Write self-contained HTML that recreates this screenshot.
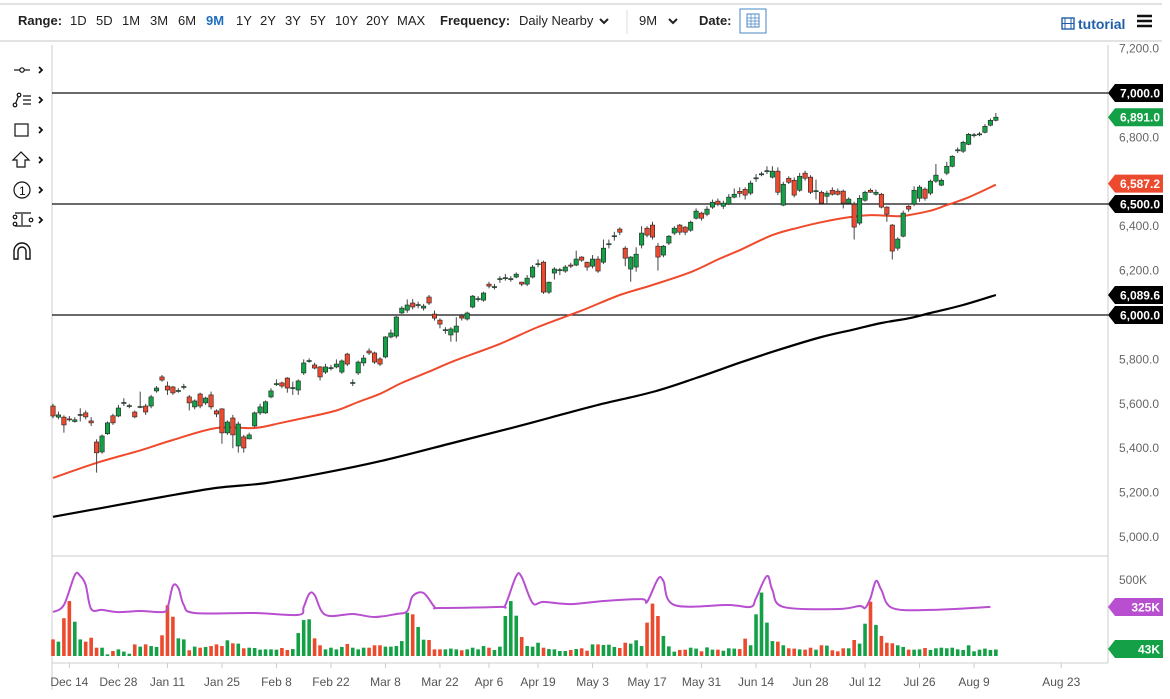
<!DOCTYPE html>
<html><head><meta charset="utf-8">
<style>
html,body{margin:0;padding:0;background:#fff;}
body{width:1170px;height:699px;overflow:hidden;position:relative;font-family:"Liberation Sans",sans-serif;}
svg{position:absolute;left:0;top:0;}
</style></head>
<body>
<svg id="chart" width="1170" height="699" viewBox="0 0 1170 699" xmlns="http://www.w3.org/2000/svg">
  <g font-size="13" fill="#222">
    <line x1="0" y1="4" x2="1162" y2="4" stroke="#d8d8d8" stroke-width="1.5"/>
    <line x1="0" y1="41" x2="1162" y2="41" stroke="#d8d8d8" stroke-width="1.5"/>
    <text x="18" y="25" font-weight="bold">Range:</text>
    <text x="70" y="25">1D</text>
    <text x="96" y="25">5D</text>
    <text x="122" y="25">1M</text>
    <text x="150" y="25">3M</text>
    <text x="178" y="25">6M</text>
    <text x="206" y="25" fill="#1f6fbf" font-weight="bold">9M</text>
    <text x="236" y="25">1Y</text>
    <text x="260" y="25">2Y</text>
    <text x="285" y="25">3Y</text>
    <text x="310" y="25">5Y</text>
    <text x="335" y="25">10Y</text>
    <text x="366" y="25">20Y</text>
    <text x="397" y="25">MAX</text>
    <text x="440" y="25" font-weight="bold">Frequency:</text>
    <text x="519" y="25">Daily Nearby</text>
    <path d="M600 19 l4 4 l4 -4" fill="none" stroke="#222" stroke-width="2"/>
    <line x1="627" y1="10" x2="627" y2="34" stroke="#ddd"/>
    <text x="639" y="25">9M</text>
    <path d="M669 19 l4 4 l4 -4" fill="none" stroke="#222" stroke-width="2"/>
    <text x="699" y="25" font-weight="bold">Date:</text>
    <g>
      <rect x="740" y="9" width="26" height="24" fill="#fff" stroke="#4a86c5"/>
      <rect x="747" y="14" width="12" height="13" fill="none" stroke="#4a86c5"/>
      <path d="M747 18 h12 M747 21 h12 M747 24 h12 M751 14 v13 M755 14 v13" stroke="#4a86c5" stroke-width="0.7"/>
    </g>
    <g>
      <rect x="1062" y="18" width="12" height="11" fill="none" stroke="#1f5fa8" stroke-width="1.4"/>
      <path d="M1065 18 v11 M1071 18 v11 M1062 23.5 h12" stroke="#1f5fa8" stroke-width="1"/>
      <text x="1078" y="29" fill="#1f5fa8" font-weight="bold" font-size="14">tutorial</text>
    </g>
    <path d="M1137 16 h15 M1137 21 h15 M1137 26 h15" stroke="#111" stroke-width="2.5"/>
  </g>
  <g stroke="#111" fill="none" stroke-width="1.2">
    <g><path d="M14 70 h16"/><circle cx="22" cy="70" r="2.2" fill="#fff"/><path d="M39 67 l3 3 l-3 3" stroke-width="1.8"/></g>
    <g><path d="M15 105 l4 -10 M23 96 h8 M23 100 h8 M23 104 h8"/><circle cx="15" cy="105" r="1.8" fill="#fff"/><circle cx="19" cy="95" r="1.8" fill="#fff"/><path d="M39 97 l3 3 l-3 3" stroke-width="1.8"/></g>
    <g><rect x="15" y="124" width="13" height="12"/><path d="M39 127 l3 3 l-3 3" stroke-width="1.8"/></g>
    <g><path d="M21 152 l-8 8 h4 v7 h8 v-7 h4 z"/><path d="M39 157 l3 3 l-3 3" stroke-width="1.8"/></g>
    <g><circle cx="22" cy="190" r="8"/><text x="19" y="195" font-size="12" fill="#111" stroke="none">1</text><path d="M39 187 l3 3 l-3 3" stroke-width="1.8"/></g>
    <g><path d="M15 213 h16 M15 226 h16 M22 214 v11"/><circle cx="15" cy="217" r="1.8"/><circle cx="15" cy="224" r="1.8"/><circle cx="31" cy="220" r="1.8"/><path d="M39 217 l3 3 l-3 3" stroke-width="1.8"/></g>
    <g><path d="M14 259 v-8 a8 8 0 0 1 16 0 v8 h-4 v-8 a4 4 0 0 0 -8 0 v8 z" stroke-width="1.4"/></g>
  </g>
  <g stroke="#ccc" fill="none">
    <line x1="52" y1="45" x2="52" y2="690"/>
    <line x1="1108" y1="45" x2="1108" y2="663"/>
    <line x1="52" y1="556" x2="1108" y2="556"/>
    <line x1="52" y1="663" x2="1108" y2="663"/>
  </g>
  <g id="priceAxis"></g>
  <g id="refLines"></g>
  <g id="maLines"></g>
  <g id="candles"></g>
  <g id="volume"></g>
  <g id="xAxis"></g>
  <g id="tags"></g>
</svg>
<script>
const opens=[5590,5540,5540,5532,5520,5548,5559,5523,5428,5383,5465,5546,5545,5602,5588,5563,5584,5590,5590,5658,5721,5680,5676,5656,5674,5631,5586,5644,5604,5640,5568,5577,5469,5536,5410,5451,5442,5500,5559,5559,5631,5687,5694,5716,5669,5662,5739,5791,5775,5766,5743,5759,5766,5743,5824,5692,5739,5784,5838,5829,5802,5811,5901,5905,6009,6022,6054,6043,6031,6081,6004,5977,5930,5910,5923,5995,5982,6036,6070,6067,6139,6124,6160,6164,6160,6171,6148,6139,6171,6227,6238,6103,6189,6200,6198,6225,6225,6261,6238,6220,6252,6238,6317,6353,6387,6301,6207,6216,6315,6391,6405,6310,6270,6324,6369,6405,6396,6382,6436,6459,6454,6486,6513,6490,6500,6531,6557,6566,6549,6614,6632,6646,6621,6648,6495,6616,6607,6562,6639,6621,6556,6553,6535,6562,6558,6558,6504,6499,6414,6517,6562,6544,6544,6486,6405,6301,6355,6490,6500,6526,6567,6549,6603,6585,6639,6670,6740,6738,6769,6808,6812,6823,6855,6877];
const closes=[5545,5550,5505,5528,5528,5552,5541,5514,5379,5455,5514,5514,5581,5606,5592,5541,5588,5563,5631,5671,5707,5662,5649,5660,5678,5604,5613,5590,5626,5586,5554,5469,5518,5460,5509,5401,5460,5559,5586,5609,5658,5691,5680,5671,5673,5703,5784,5795,5761,5721,5766,5763,5779,5793,5779,5696,5788,5806,5829,5788,5779,5901,5919,5991,6031,6045,6036,6047,6040,6054,5986,5959,5934,5937,5950,5986,6009,6085,6074,6099,6130,6128,6164,6168,6164,6184,6139,6166,6216,6231,6103,6148,6207,6204,6216,6220,6252,6247,6216,6252,6198,6301,6321,6357,6373,6256,6261,6274,6369,6360,6351,6261,6310,6355,6391,6373,6373,6418,6468,6436,6477,6508,6500,6504,6531,6544,6548,6540,6594,6618,6636,6650,6648,6553,6589,6598,6540,6625,6616,6553,6560,6504,6549,6544,6544,6504,6522,6396,6526,6553,6553,6553,6486,6454,6288,6342,6459,6477,6562,6576,6526,6603,6630,6607,6670,6715,6744,6778,6814,6812,6816,6850,6877,6891];
const highs=[5600,5565,5548,5545,5540,5580,5570,5540,5440,5462,5520,5555,5595,5625,5600,5570,5655,5600,5640,5680,5730,5700,5680,5670,5690,5640,5620,5650,5632,5655,5575,5580,5525,5550,5520,5460,5470,5565,5600,5615,5670,5710,5700,5720,5700,5710,5800,5805,5785,5770,5780,5775,5800,5800,5830,5710,5795,5820,5850,5835,5810,5905,5935,5995,6040,6070,6072,6060,6050,6090,6020,5985,5945,5945,5990,6005,6015,6090,6085,6105,6150,6140,6175,6185,6175,6192,6150,6180,6225,6250,6245,6150,6215,6212,6225,6235,6290,6265,6240,6270,6265,6340,6340,6375,6395,6310,6265,6305,6400,6400,6420,6325,6315,6360,6400,6410,6400,6425,6480,6465,6490,6520,6525,6515,6545,6570,6575,6575,6605,6635,6645,6670,6670,6665,6600,6625,6620,6640,6650,6630,6610,6560,6560,6575,6570,6565,6530,6510,6540,6560,6570,6565,6550,6490,6410,6350,6470,6495,6580,6585,6575,6610,6680,6615,6690,6720,6755,6785,6820,6820,6825,6860,6885,6910];
const lows=[5535,5530,5470,5520,5515,5520,5530,5500,5290,5375,5460,5505,5540,5590,5580,5535,5580,5550,5580,5650,5700,5640,5640,5650,5665,5570,5575,5580,5595,5575,5540,5420,5460,5400,5380,5380,5440,5495,5550,5555,5625,5680,5670,5650,5640,5640,5730,5785,5755,5705,5735,5750,5760,5735,5770,5680,5730,5770,5820,5780,5770,5805,5895,5895,6005,6010,6025,6030,6020,6045,5975,5940,5915,5880,5880,5975,5975,6030,6060,6060,6120,6115,6145,6155,6150,6165,6130,6130,6165,6215,6095,6095,6160,6180,6190,6212,6220,6240,6200,6210,6190,6230,6300,6335,6360,6220,6150,6195,6300,6350,6340,6200,6260,6315,6360,6360,6360,6375,6430,6425,6445,6478,6490,6478,6495,6525,6530,6520,6540,6600,6625,6635,6615,6540,6490,6590,6530,6555,6605,6545,6520,6500,6500,6538,6538,6480,6500,6340,6405,6510,6550,6538,6480,6420,6250,6290,6350,6465,6490,6510,6515,6540,6595,6580,6630,6665,6730,6730,6765,6800,6805,6818,6850,6872];
const volumes=[110,95,250,364,227,110,95,121,55,55,11,33,44,29,15,77,62,77,66,60,137,336,260,117,110,38,62,55,60,66,77,66,104,84,82,51,55,53,42,44,44,42,53,40,46,152,238,243,117,71,44,55,44,60,80,55,44,55,55,71,71,62,62,66,99,287,276,192,108,106,44,44,44,49,44,38,44,55,44,66,55,40,62,265,364,267,126,66,62,88,55,46,44,33,33,40,46,51,35,77,77,73,75,60,53,88,82,104,66,221,347,265,133,64,29,40,42,55,49,31,57,42,42,35,51,49,46,115,71,276,420,221,99,95,71,51,49,44,42,55,42,71,69,38,31,51,51,106,82,214,360,206,133,88,84,71,60,42,42,44,53,40,51,55,51,55,44,40,71,31,42,49,40,43];
const ma50Idx=[0,8,16,22,30,37,42,47,52,56,60,64,69,74,82,89,97,104,110,117,122,126,132,137,141,146,150,155,157,161,164,168,173];
const ma50Val=[5266,5334,5390,5437,5491,5491,5515,5541,5570,5608,5645,5694,5745,5797,5870,5946,6020,6090,6135,6193,6250,6292,6360,6395,6418,6440,6450,6445,6450,6470,6495,6530,6587];
const ma200Idx=[0,9,20,30,39,50,61,74,84,91,100,110,118,126,133,141,147,152,157,161,167,173];
const ma200Val=[5091,5131,5180,5221,5243,5290,5347,5428,5490,5536,5595,5653,5716,5785,5842,5901,5935,5964,5985,6009,6045,6090];
const volAvgIdx=[0,2,4,5,6,7,9,12,16,20,21,22,23,24,26,37,45,46,47,48,50,55,59,63,65,66,68,70,71,82,83,85,86,88,90,95,101,108,109,111,112,114,124,128,129,131,132,134,144,148,149,150,151,152,154,161,172];
const volAvgVal=[291,338,536,530,470,311,305,291,298,291,318,464,450,338,285,285,272,325,411,404,272,278,258,278,298,397,417,325,318,325,338,530,523,351,358,344,364,377,358,510,497,338,338,325,384,530,437,325,311,331,318,384,497,437,318,305,325];
const priceTicks=[5000,5200,5400,5600,5800,6000,6200,6400,6600,6800,7000,7200];
const refLevels=[7000,6500,6000];
const dateLabels=["Dec 14","Dec 28","Jan 11","Jan 25","Feb 8","Feb 22","Mar 8","Mar 22","Apr 6","Apr 19","May 3","May 17","May 31","Jun 14","Jun 28","Jul 12","Jul 26","Aug 9","Aug 23"];
const dateIdx=[3,12,21,31,41,51,61,71,80,89,99,109,119,129,139,149,159,169,185];

const NS="http://www.w3.org/2000/svg";
const X=i=>53+i*5.45;
const Y=p=>315-(p-6000)*0.222;
const YV=v=>656-v*0.151;
function mk(tag,attrs,parent){const e=document.createElementNS(NS,tag);for(const k in attrs)e.setAttribute(k,attrs[k]);parent.appendChild(e);return e;}
const G=id=>document.getElementById(id);
const GREEN="#14a046",RED="#ec4a2e";

priceTicks.forEach(p=>{
  if(p===7000||p===6000)return;
  const t=mk('text',{x:1119,y:Y(p)+4,'font-size':12,fill:'#666'},G('priceAxis'));
  
  
  t.textContent=p.toLocaleString('en-US')+'.0';
});
refLevels.forEach(p=>{
  const l=mk('line',{x1:52,x2:1108,y1:Y(p),y2:Y(p),stroke:'#111','stroke-width':1.2},G('refLines'));
  
  
});
function line(idx,vals,yf,color,w,parent,name){
  const P=idx.map((i,k)=>[X(i),yf(vals[k])]);
  let d='M'+P[0][0].toFixed(1)+' '+P[0][1].toFixed(1);
  for(let k=0;k<P.length-1;k++){
    const p0=P[Math.max(0,k-1)],p1=P[k],p2=P[k+1],p3=P[Math.min(P.length-1,k+2)];
    const c1=[p1[0]+(p2[0]-p0[0])/6,p1[1]+(p2[1]-p0[1])/6];
    const c2=[p2[0]-(p3[0]-p1[0])/6,p2[1]-(p3[1]-p1[1])/6];
    d+=` C${c1[0].toFixed(1)} ${c1[1].toFixed(1)} ${c2[0].toFixed(1)} ${c2[1].toFixed(1)} ${p2[0].toFixed(1)} ${p2[1].toFixed(1)}`;
  }
  const pl=mk('path',{d:d,fill:'none',stroke:color,'stroke-width':w,'stroke-linejoin':'round'},parent);
  
  
}
line(ma200Idx,ma200Val,Y,'#000',2.2,G('maLines'),'ma-200-line');
line(ma50Idx,ma50Val,Y,'#f04a2c',2,G('maLines'),'ma-50-line');

opens.forEach((o,i)=>{
  const c=closes[i],up=c>=o,x=X(i);
  const g=mk('g',{},G('candles'));
  
  
  mk('line',{x1:x,x2:x,y1:Y(highs[i]),y2:Y(lows[i]),stroke:'#444','stroke-width':1},g);
  const top=Y(Math.max(o,c)),bot=Y(Math.min(o,c));
  mk('rect',{x:x-2.2,y:top,width:4.4,height:Math.max(1,bot-top),fill:up?GREEN:RED,stroke:'#222','stroke-width':0.6},g);
});

volumes.forEach((v,i)=>{
  const r=mk('rect',{x:X(i)-1.8,y:YV(v),width:3.6,height:656-YV(v),fill:closes[i]>=opens[i]?GREEN:RED},G('volume'));
  
  
});
line(volAvgIdx,volAvgVal,YV,'#b84fd0',2,G('volume'),'volume-average-line');
const vt=mk('text',{x:1119,y:584,'font-size':12,fill:'#666'},G('volume'));


vt.textContent='500K';

dateLabels.forEach((d,k)=>{
  const x=X(dateIdx[k]);
  const tk=mk('line',{x1:x,x2:x,y1:663,y2:668,stroke:'#ccc'},G('xAxis'));
  
  
  const t=mk('text',{x:x,y:686,'font-size':12,fill:'#555','text-anchor':'middle'},G('xAxis'));
  
  
  t.textContent=d;
});

function tag(y,label,color){
  const g=mk('g',{},G('tags'));
  
  
  mk('path',{d:`M1108 ${y} L1115 ${y-9} H1163 V${y+9} H1115 Z`,fill:color},g);
  const t=mk('text',{x:1160,y:y+4.5,'font-size':12,'font-weight':'bold',fill:'#fff','text-anchor':'end'},g);
  t.textContent=label;
}
tag(Y(7000),'7,000.0','#000');
tag(Y(closes[closes.length-1]),closes[closes.length-1].toLocaleString('en-US')+'.0',GREEN);
tag(Y(ma50Val[ma50Val.length-1])-1,'6,587.2','#ec4a2e');
tag(Y(6500),'6,500.0','#000');
tag(Y(ma200Val[ma200Val.length-1]),'6,089.6','#000');
tag(Y(6000),'6,000.0','#000');
tag(607,'325K','#b84fd0');
tag(649,'43K',GREEN);
</script>
</body></html>
